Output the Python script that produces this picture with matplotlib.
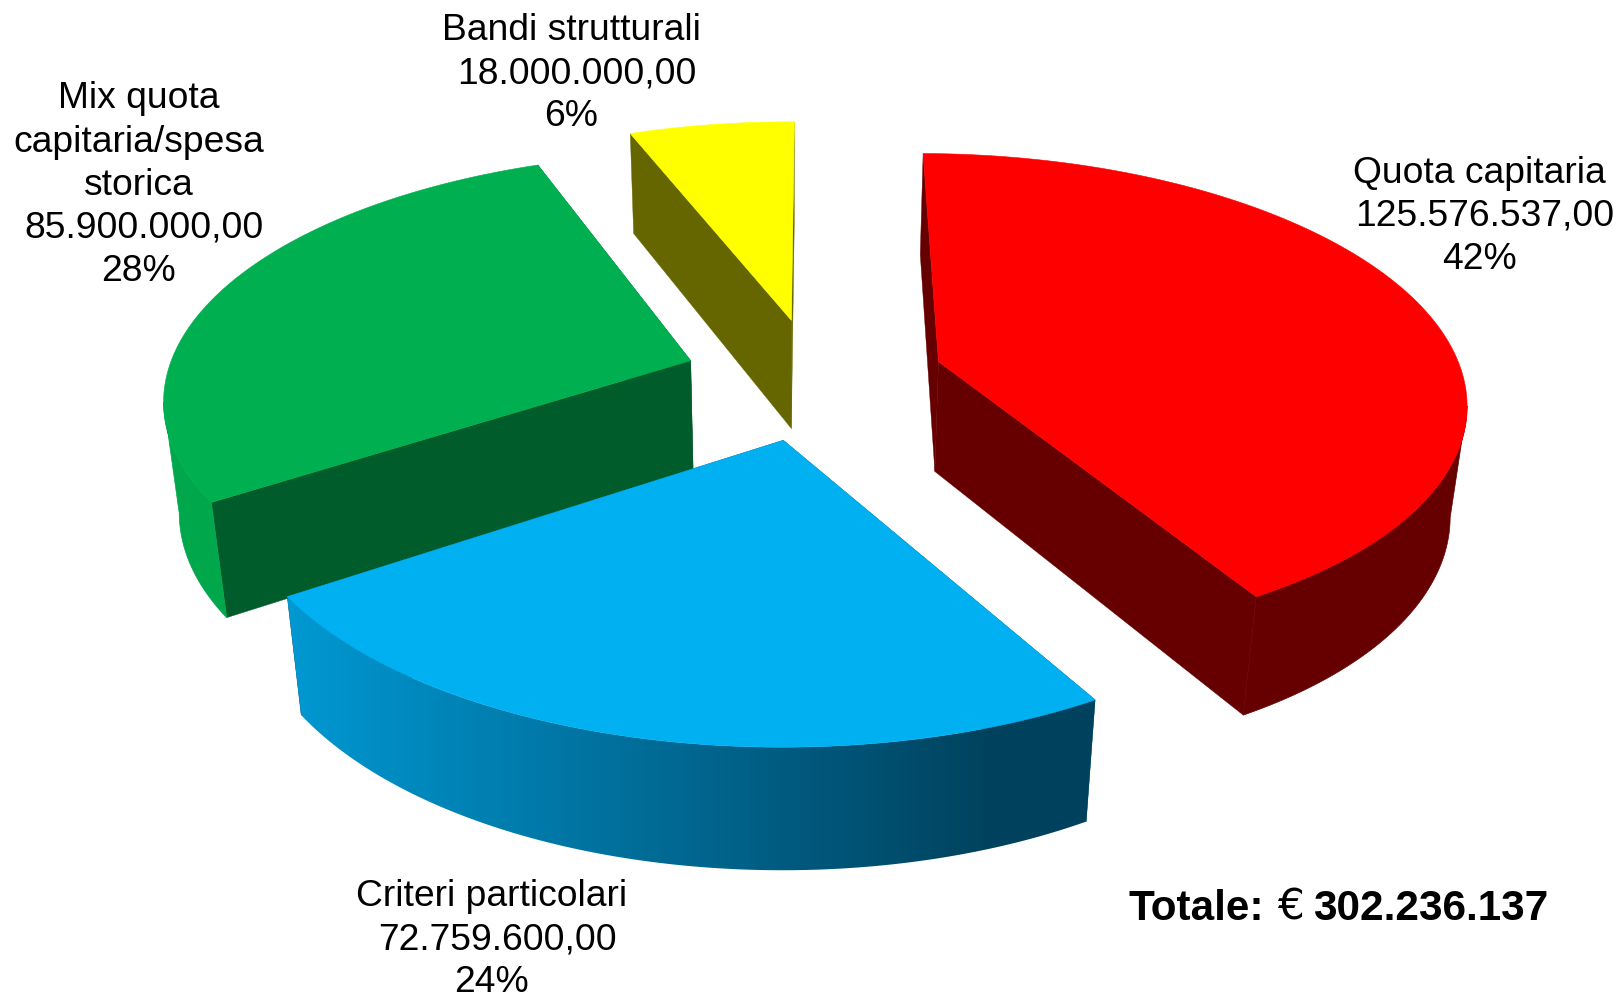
import numpy as np
import matplotlib
matplotlib.use('Agg')
import matplotlib.pyplot as plt
from matplotlib.colors import LinearSegmentedColormap
from matplotlib.patches import Polygon

plt.rcParams['font.family'] = ['Liberation Sans', 'DejaVu Sans']

# dati
categorie = [['Quota capitaria'], ['Criteri particolari'],
             ['Mix quota', 'capitaria/spesa', 'storica'], ['Bandi strutturali']]
valori = [125576537.00, 72759600.00, 85900000.00, 18000000.00]
valori_txt = ['125.576.537,00', '72.759.600,00', '85.900.000,00', '18.000.000,00']
percentuali = ['42%', '24%', '28%', '6%']
totale_txt = ['Totale:', '€', '302.236.137']

# stile
col_top = ['#FF0000', '#00B0F0', '#00B050', '#FFFF00']
col_cut = ['#660000', '#00506E', '#005C2A', '#666600']
col_wall_l = ['#660000', '#0098D2', '#00A84B', '#666600']
col_wall_r = ['#660000', '#00425E', '#00A84B', '#666600']
explode_x = [0.285, -0.013, -0.192, 0.002]
explode_y = [0.0, -0.316, 0.004, 0.178]
label_x = [1432, 476, 134, 553]
label_y = [177, 877, 105, 39]

# vista prospettica della torta
CX, CY = 765, 350
R, S, T = 503, 230.2, 109
K, M = 0.143, 0.025
START = 89.6


def proj(x, y, z):
    w = 1 + K * y + M * z
    return CX + R * x / w, CY + (T * z - S * y) / w


fig = plt.figure(figsize=(16.2, 9.96), dpi=100)
ax = fig.add_axes([0, 0, 1, 1])

quote = np.array(valori) / sum(valori) * 360
fine = START - np.cumsum(quote)
inizio = fine + quote
grad = np.clip((np.linspace(0, 1568, 512) - 280) / (960 - 280), 0, 1)

livello = 1
for i in [3, 0, 2, 1]:  # dal fondo verso il davanti
    t = np.radians(np.linspace(inizio[i], fine[i], 300))
    x = explode_x[i] + np.cos(t)
    y = explode_y[i] + np.sin(t)
    ax_, ay_ = explode_x[i], explode_y[i]

    # facce di taglio
    for j in [0, -1]:
        px, py = proj(np.array([ax_, x[j], x[j], ax_]),
                      np.array([ay_, y[j], y[j], ay_]),
                      np.array([0, 0, 1, 1]))
        ax.fill(px, py, color=col_cut[i], lw=0.3, zorder=livello)
    livello += 1

    # parete esterna: solo il tratto che guarda verso chi osserva
    xt, yt = proj(x, y, 0 * x)
    xb, yb = proj(x, y, 0 * x + 1)
    davanti = np.r_[np.diff(xt) < 0, False]
    davanti[1:] |= davanti[:-1]
    if davanti.any():
        contorno = np.c_[np.r_[xt[davanti], xb[davanti][::-1]],
                         np.r_[yt[davanti], yb[davanti][::-1]]]
        if col_wall_l[i] == col_wall_r[i]:
            ax.add_patch(Polygon(contorno, closed=True, fc=col_wall_l[i],
                                 ec=col_wall_l[i], lw=0.5, zorder=livello))
        else:
            cm = LinearSegmentedColormap.from_list('w', [col_wall_l[i], col_wall_r[i]])
            im = ax.imshow(grad[None, :], cmap=cm, vmin=0, vmax=1, aspect='auto',
                           extent=(0, 1568, 964, 0), zorder=livello)
            bordo = Polygon(contorno, closed=True, fc='none', ec='none')
            ax.add_patch(bordo)
            im.set_clip_path(bordo)
    livello += 1

    # faccia superiore
    px, py = proj(np.r_[ax_, x], np.r_[ay_, y], np.zeros(len(x) + 1))
    ax.fill(px, py, color=col_top[i], lw=0.4, zorder=livello)
    livello += 1

ax.set_xlim(0, 1568)
ax.set_ylim(964, 0)
ax.axis('off')

# etichette
passo = 41.7
for i in range(4):
    righe = categorie[i] + [valori_txt[i], percentuali[i]]
    for n, r in enumerate(righe):
        dx = 5 if r == valori_txt[i] else 0
        ax.text(label_x[i] + dx, label_y[i] + n * passo, r, fontsize=26.8,
                ha='center', va='baseline', color='black', zorder=50)

ax.text(1092, 890, totale_txt[0], fontsize=30.4, fontweight='bold',
        ha='left', va='baseline', zorder=50)
ax.text(1237, 890, totale_txt[1], fontsize=30.4, family='DejaVu Sans',
        ha='left', va='baseline', zorder=50)
ax.text(1499, 890, totale_txt[2], fontsize=30.4, fontweight='bold',
        ha='right', va='baseline', zorder=50)

fig.savefig('out.png', dpi=100)
